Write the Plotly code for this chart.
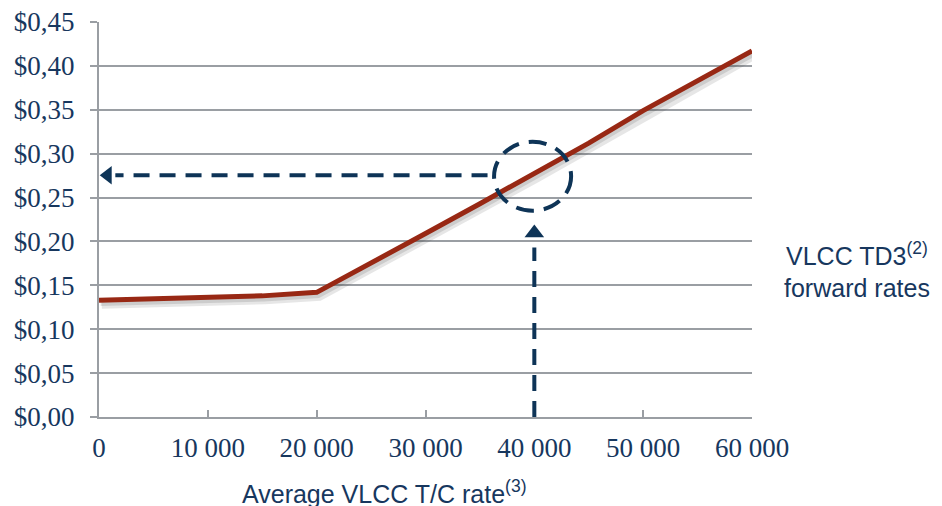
import plotly.graph_objects as go

# Data
tc_rate = [0, 5000, 10000, 15000, 20000, 25000, 30000, 35000, 40000, 45000, 50000, 55000, 60000]
td3_rate = [0.133, 0.1345, 0.136, 0.138, 0.142, 0.175, 0.209, 0.243, 0.277, 0.312, 0.349, 0.383, 0.417]

x_ticks = [0, 10000, 20000, 30000, 40000, 50000, 60000]
x_ticktext = ["0", "10 000", "20 000", "30 000", "40 000", "50 000", "60 000"]
y_ticks = [0.0, 0.05, 0.10, 0.15, 0.20, 0.25, 0.30, 0.35, 0.40, 0.45]
y_ticktext = ["$0,00", "$0,05", "$0,10", "$0,15", "$0,20", "$0,25", "$0,30", "$0,35", "$0,40", "$0,45"]

# Example reading: T/C rate 40 000 -> forward rate ~0.275
example_x = 40000
example_y = 0.2755

NAVY = "#0E3457"
TXT = "#17375E"
RED = "#982814"
GRID = "#9A9EA3"

# page body has an 8px margin, so the figure is sized / placed to compensate
W, H = 934, 498
L, T = 91, 14
PLOT_W = 752 - 8 - L
PLOT_H = 417 - 8 - T

fig = go.Figure()

# soft shadow of the curve
fig.add_trace(go.Scatter(
    x=[v + 250 for v in tc_rate], y=[v - 0.0045 for v in td3_rate],
    mode="lines", line=dict(color="rgba(60,60,60,0.13)", width=9),
    hoverinfo="skip", showlegend=False))
fig.add_trace(go.Scatter(
    x=[v + 150 for v in tc_rate], y=[v - 0.003 for v in td3_rate],
    mode="lines", line=dict(color="rgba(60,60,60,0.15)", width=6),
    hoverinfo="skip", showlegend=False))
fig.add_trace(go.Scatter(
    x=tc_rate, y=td3_rate, mode="lines",
    line=dict(color=RED, width=5), showlegend=False))

# dashed guide lines
fig.add_shape(type="line", x0=example_x - 4300, x1=1500, y0=example_y, y1=example_y,
              line=dict(color=NAVY, width=4, dash="16px,10px"))
fig.add_shape(type="line", x0=example_x, x1=example_x, y0=0, y1=0.193,
              line=dict(color=NAVY, width=4, dash="16px,10px"))
# dashed circle
fig.add_shape(type="circle", x0=36300, x1=43380, y0=0.235, y1=0.3136,
              line=dict(color=NAVY, width=4, dash="18px,10px"))

# arrow heads
fig.add_trace(go.Scatter(x=[800], y=[example_y], mode="markers",
                         marker=dict(symbol="triangle-left", size=16, color=NAVY),
                         hoverinfo="skip", showlegend=False))
fig.add_trace(go.Scatter(x=[example_x], y=[0.2095], mode="markers",
                         marker=dict(symbol="triangle-up", size=17, color=NAVY),
                         hoverinfo="skip", showlegend=False))

fig.update_layout(
    width=W, height=H,
    margin=dict(l=L, r=W - L - PLOT_W, t=T, b=H - T - PLOT_H, pad=0),
    paper_bgcolor="white", plot_bgcolor="white",
    font=dict(family="Liberation Serif, Times New Roman, serif", size=27, color=TXT),
    xaxis=dict(range=[0, 60000], tickvals=x_ticks, ticktext=x_ticktext,
               showgrid=False, zeroline=False, automargin=False,
               showline=True, linecolor=GRID, linewidth=2,
               ticks="inside", ticklen=7, tickwidth=2, tickcolor=GRID,
               ticklabelstandoff=6, ticklabeloverflow="allow", fixedrange=True),
    yaxis=dict(range=[0, 0.45], tickvals=y_ticks, ticktext=y_ticktext,
               showgrid=True, gridcolor=GRID, gridwidth=1.5, zeroline=False,
               automargin=False,
               showline=True, linecolor=GRID, linewidth=2,
               ticks="outside", ticklen=7, tickwidth=2, tickcolor=GRID,
               ticklabelstandoff=10, ticklabeloverflow="allow", fixedrange=True),
    annotations=[
        dict(text="Average VLCC T/C rate<sup>(3)</sup>", xref="paper", yref="paper",
             x=(384 - 99) / 653, y=-(492 - 417) / 395, xanchor="center", yanchor="middle",
             showarrow=False,
             font=dict(family="Liberation Sans, Arial, sans-serif", size=25, color=TXT)),
        dict(text="VLCC TD3<sup>(2)</sup><br>forward rates", xref="paper", yref="paper",
             x=(857 - 99) / 653, y=(417 - 270) / 395, xanchor="center", yanchor="middle",
             showarrow=False, align="center",
             font=dict(family="Liberation Sans, Arial, sans-serif", size=25, color=TXT)),
    ],
)

fig.write_html("out.html")
